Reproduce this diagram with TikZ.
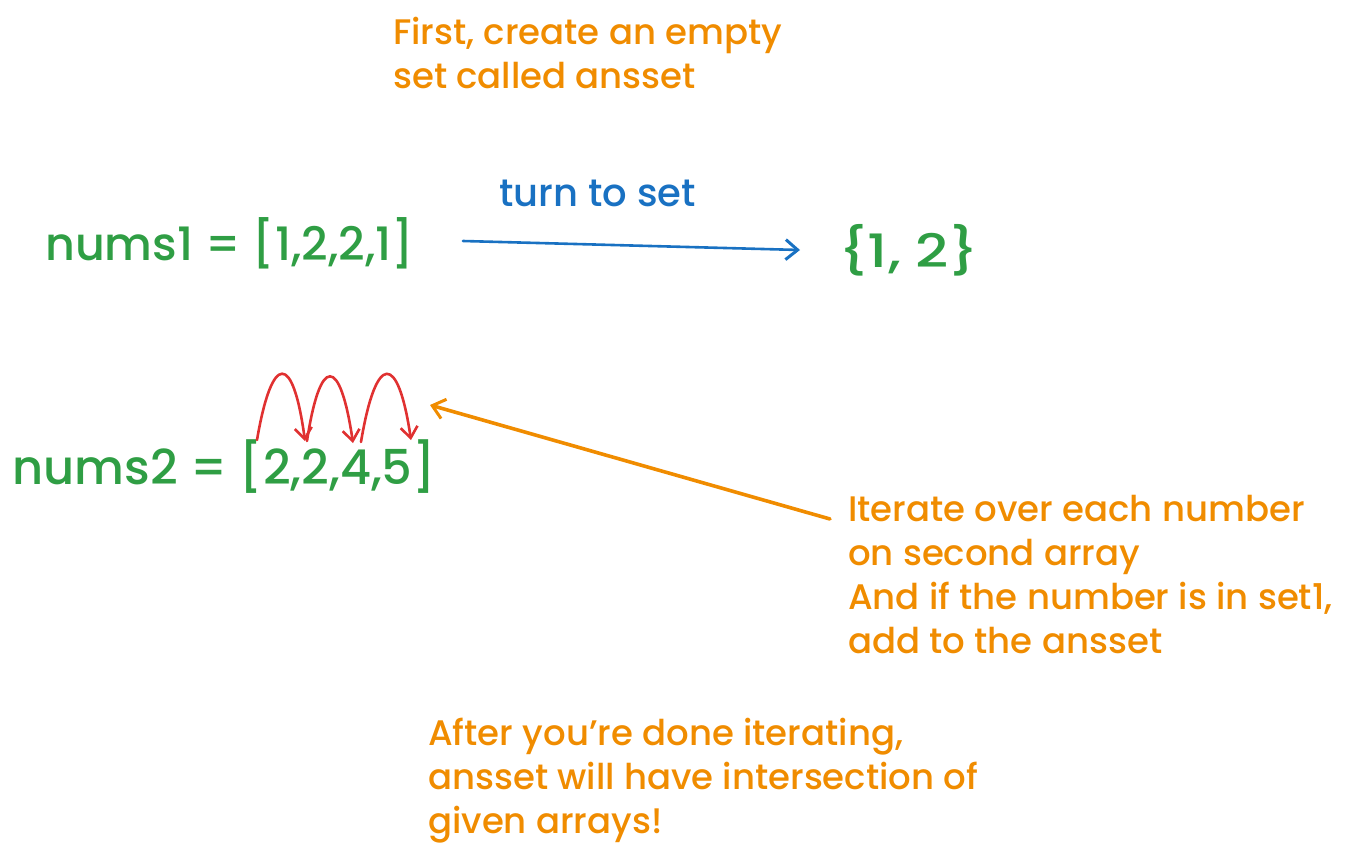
\documentclass[tikz,border=0pt]{standalone}
\usepackage{fontspec}
\setmainfont{Poppins}[UprightFont=* Medium]
\usetikzlibrary{arrows.meta}
\definecolor{exgreen}{HTML}{2F9E44}
\definecolor{exblue}{HTML}{1971C2}
\definecolor{exorange}{HTML}{F08C00}
\definecolor{exred}{HTML}{E03131}
\tikzset{
  note/.style={anchor=north west, inner sep=0pt, align=left, text=exorange,
    font=\fontsize{35.5}{44}\selectfont},
  arr/.style={text=exgreen, inner sep=0pt, font=\fontsize{46}{50}\selectfont},
  label/.style={text=exblue, inner sep=0pt, font=\fontsize{38.5}{40}\selectfont},
  barb/.style={-{Straight Barb[length=12pt,width=20pt,line width=3pt]}, line cap=round, line join=round},
  bluearrow/.style={barb, draw=exblue, line width=2.6pt},
  orangearrow/.style={barb, draw=exorange, line width=3.6pt},
  redarc/.style={-{Straight Barb[length=11pt,width=17pt]}, draw=exred, line width=2.6pt, line cap=round},
}
\begin{document}
\begin{tikzpicture}[x=1pt,y=-1pt]
\useasboundingbox (0,0) rectangle (1353,857);
\node[note] (first) at (393,17) {First, create an empty\\set called ansset};
\node[label, anchor=west] (turn) at (499,193) {turn to set};
\node[arr, anchor=west] (nums1) at (45,243) {nums1 = [1,2,2,1]};
\node[arr, anchor=west] (set1) at (838,250) {\scalebox{1.25}[1]{\{1, 2\}}};
\node[arr, anchor=west, font=\fontsize{48}{52}\selectfont] (nums2) at (12,467) {nums2 = [2,2,4,5]};
\node[note] (iter) at (848,495) {Iterate over each number\\on second array\\And if the number is in set1,\\add to the ansset};
\node[note] (after) at (428,718) {After you're done iterating,\\ansset will have intersection of\\given arrays!};
\coordinate (b0) at (463,241);
\coordinate (b1) at (800,250);
\draw[bluearrow] (b0) -- (b1);
\coordinate (o0) at (830,519);
\coordinate (o1) at (430,405);
\draw[orangearrow] (o0) -- (o1);
\coordinate (r0) at (257,440);
\coordinate (r1) at (305,441);
\coordinate (r2) at (307,441);
\coordinate (r3) at (353,443);
\coordinate (r4) at (361,442);
\coordinate (r5) at (411,440);
\draw[redarc] (r0) .. controls (272,352) and (293,352) .. (r1);
\draw[redarc] (r2) .. controls (320,355) and (340,355) .. (r3);
\draw[redarc] (r4) .. controls (376,352) and (398,352) .. (r5);
\end{tikzpicture}
\end{document}
